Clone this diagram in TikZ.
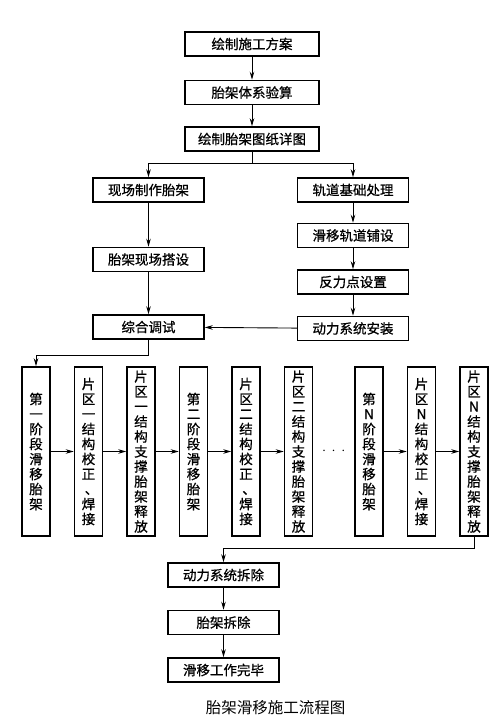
\documentclass[tikz,border=0pt]{standalone}
\usepackage{fontspec}
\newfontfamily\cjk[FakeBold=0.8]{Noto Sans CJK SC}
\newfontfamily\cjktitle{Noto Sans CJK SC}
\usetikzlibrary{positioning,arrows.meta,calc}

\begin{document}
\begin{tikzpicture}[
  x=1pt, y=-1pt,
  node distance=23pt and 23pt,
  stepbox/.style={draw,line width=1.5pt,minimum height=24pt,inner sep=0pt,
    font=\cjk\fontsize{13.5}{15}\selectfont},
  widebox/.style={stepbox,minimum width=134pt},
  midbox/.style={stepbox,minimum width=111pt},
  vbox/.style={stepbox,minimum width=28pt,minimum height=169pt,align=center},
  arr/.style={line width=0.9pt,-{Stealth[length=8pt,width=4.5pt]}}
]
\useasboundingbox (0,0) rectangle (500,727);

% top column
\node[widebox] (plan) at (252,44) {绘制施工方案};
\node[widebox,below=23pt of plan] (check) {胎架体系验算};
\node[widebox,below=21pt of check] (draw) {绘制胎架图纸详图};

% left branch
\node[midbox] (make) at (148.5,190) {现场制作胎架};
\node[midbox,below=44pt of make] (erect) {胎架现场搭设};
\node[midbox,below=42pt of erect] (tune) {综合调试};

% right branch
\node[midbox] (base) at (353,190) {轨道基础处理};
\node[midbox,below=20pt of base] (rail) {滑移轨道铺设};
\node[midbox,below=21pt of rail] (react) {反力点设置};
\node[midbox,below=21pt of react] (power) {动力系统安装};

% sliding stages
\node[vbox] (s1) at (36,451.5) {第\\一\\阶\\段\\滑\\移\\胎\\架};
\node[vbox,right=of s1] (w1) {片\\区\\一\\结\\构\\校\\正\\\hspace*{6pt}、\\焊\\接};
\node[vbox,right=of w1] (r1) {片\\区\\一\\结\\构\\支\\撑\\胎\\架\\释\\放};
\node[vbox,right=of r1] (s2) {第\\二\\阶\\段\\滑\\移\\胎\\架};
\node[vbox,right=of s2] (w2) {片\\区\\二\\结\\构\\校\\正\\\hspace*{6pt}、\\焊\\接};
\node[vbox,right=of w2] (r2) {片\\区\\二\\结\\构\\支\\撑\\胎\\架\\释\\放};
\node[vbox,right=41pt of r2] (sn) {第\\N\\阶\\段\\滑\\移\\胎\\架};
\node[vbox,right=of sn] (wn) {片\\区\\N\\结\\构\\校\\正\\\hspace*{6pt}、\\焊\\接};
\node[vbox,right=of wn] (rn) {片\\区\\N\\结\\构\\支\\撑\\胎\\架\\释\\放};
\node[font=\fontsize{15}{15}\selectfont] (dots) at ($(r2)!0.5!(sn)$) {$\cdot\,\cdot\,\cdot$};

% bottom column
\node[midbox] (remove) at (223.5,575) {动力系统拆除};
\node[midbox,below=22pt of remove] (strip) {胎架拆除};
\node[midbox,below=22pt of strip] (done) {滑移工作完毕};
\node[font=\cjktitle\fontsize{15.5}{18}\selectfont] (title) at (275.5,708) {胎架滑移施工流程图};

\path (plan) edge[arr] (check)
(check) edge[arr] (draw)
(make) edge[arr] (erect)
(erect) edge[arr] (tune)
(base) edge[arr] (rail)
(rail) edge[arr] (react)
(react) edge[arr] (power)
(power) edge[arr] (tune);

\draw[arr] (draw.south) -- ++(0,12) -| (make.north);
\draw[arr] (draw.south) -- ++(0,12) -| (base.north);
\draw[arr] (tune.south) -- ++(0,16) -| (s1.north);

\path (s1) edge[arr] (w1)
(w1) edge[arr] (r1)
(r1) edge[arr] (s2)
(s2) edge[arr] (w2)
(w2) edge[arr] (r2)
(sn) edge[arr] (wn)
(wn) edge[arr] (rn);

\draw[arr] (rn.south) -- ++(0,12) -| (remove.north);
\path (remove) edge[arr] (strip)
(strip) edge[arr] (done);

\end{tikzpicture}
\end{document}
